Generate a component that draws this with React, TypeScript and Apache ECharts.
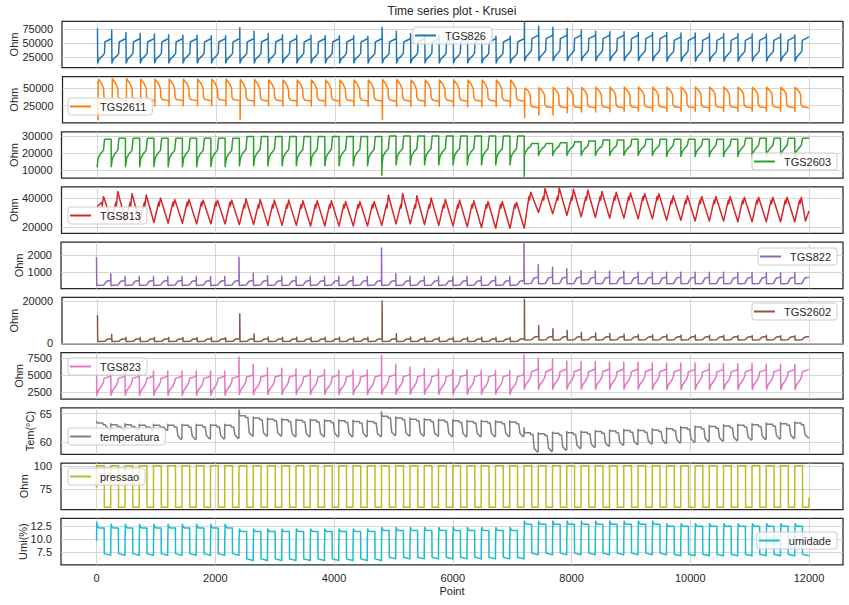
import React, { useEffect, useRef } from "react";
import * as echarts from "echarts";

// ---------------- data ----------------
const CYCLE = 240; // points per cycle
const CYCLES = 50;
const PER_BLOCK = 10;
const X_MIN = -598;
const X_MAX = 12572;
const xTickValues = [0, 2000, 4000, 6000, 8000, 10000, 12000];

const seriesNames = ["TGS826", "TGS2611", "TGS2603", "TGS813", "TGS822", "TGS2602", "TGS823", "temperatura", "pressao", "umidade"];
const yAxisNames = ["Ohm", "Ohm", "Ohm", "Ohm", "Ohm", "Ohm", "Ohm", "Tem(°C)", "Ohm", "Umi(%)"];
const yTickValues = [
  [25000, 50000, 75000],
  [25000, 50000],
  [10000, 20000, 30000],
  [20000, 40000],
  [1000, 2000],
  [0, 20000],
  [2500, 5000, 7500],
  [60, 65],
  [75, 100],
  [7.5, 10, 12.5],
];
const yMins = [6690, 833, 5349, 15448, 10, -480, 1417, 57.78, 52.9, 5.08];
const yMaxs = [88556, 65694, 32326, 47586, 2796, 21635, 8331, 65.99, 102.9, 13.92];

// TGS826: spike at cycle start, low, slow rise, jump to plateau
const tgs826Offsets = [0, 4, 30, 90, 118, 126, 200, 238];
const tgs826Spike = [
  76000, 73000, 69000, 67000, 66000, 65000, 64000, 64000, 63000, 63000,
  77000, 71000, 67000, 65000, 64000, 64000, 63000, 63000, 63000, 62000,
  78000, 71000, 67000, 65000, 64000, 64000, 63000, 63000, 62000, 62000,
  88000, 80000, 78000, 76000, 73000, 71000, 70000, 70000, 69000, 69000,
  69000, 68000, 68000, 67000, 67000, 67000, 66000, 66000, 66000, 65000,
];
const tgs826Body = [
  [15000, 22000, 28000, 32000, 52000, 56000, 58000],
  [15000, 22000, 28000, 32000, 52000, 56000, 58000],
  [15000, 22000, 28000, 32000, 52000, 56000, 58000],
  [19000, 26000, 33000, 37000, 58000, 62000, 64000],
  [18000, 25000, 32000, 36000, 55000, 59000, 61000],
];

// TGS2611: dip at cycle start, peak, rounded decay, drop to low plateau
const tgs2611Offsets = [0, 3, 12, 60, 95, 102, 125, 236];
const tgs2611Dip = [
  5000, 25000, 25000, 25000, 25000, 25000, 25000, 25000, 25000, 25000,
  5500, 25000, 25000, 24500, 24500, 24500, 24500, 24500, 24500, 24500,
  5500, 24000, 24000, 24000, 24000, 24000, 23500, 23500, 23500, 23500,
  8500, 12000, 12000, 15000, 16000, 16000, 16500, 17000, 17000, 17000,
  17000, 17000, 17000, 17000, 17000, 17000, 17000, 17000, 17000, 17000,
];
const tgs2611Peak = [
  59000, 62500, 62500, 62000, 62000, 62000, 62000, 62000, 62000, 62000,
  61500, 61500, 61000, 61000, 61000, 61000, 61000, 61000, 61000, 61000,
  61500, 61500, 61000, 61000, 61000, 61000, 61000, 61000, 61000, 61000,
  48500, 50000, 50500, 50500, 50500, 51000, 51000, 51000, 51000, 51000,
  51000, 51000, 51000, 51000, 51000, 50500, 50500, 50500, 50500, 50500,
];
const tgs2611Body = [
  [61500, 56000, 49000, 37000, 33500, 32000],
  [60500, 55000, 48000, 36500, 33000, 31500],
  [60500, 55000, 48000, 36500, 33000, 31000],
  [49500, 45500, 40500, 27000, 23500, 22000],
  [50000, 46000, 41000, 27000, 23500, 22000],
];

// TGS2603: drop at cycle start, rising curve, flat top
const tgs2603Offsets = [0, 3, 20, 60, 110, 120, 130, 239];
const tgs2603Start = [
  12800, 12000, 12000, 12000, 12000, 12000, 12000, 12000, 12000, 12000,
  12500, 12500, 12500, 12500, 12500, 12500, 12500, 12500, 12500, 12500,
  7000, 13000, 13000, 13000, 13000, 13000, 13000, 13000, 13000, 13000,
  6500, 18500, 18500, 18500, 18500, 18500, 18500, 18500, 18500, 18500,
  18000, 18000, 18000, 18000, 18000, 18000, 18000, 18000, 18000, 18000,
];
const tgs2603Body = [
  [12000, 17000, 19500, 21500, 25500],
  [12500, 17500, 20000, 22000, 26000],
  [13000, 18000, 20500, 22500, 26500],
  [18500, 20500, 22500, 24000, 25000],
  [18000, 20500, 22500, 24500, 26500],
];
const tgs2603Top = [
  28000, 28500, 28500, 28500, 28500, 28500, 28500, 28500, 28500, 28500,
  29500, 29500, 29500, 29500, 29500, 29500, 29500, 29500, 29500, 29500,
  29800, 29800, 29800, 29800, 29800, 29800, 29800, 29800, 29800, 29800,
  25500, 25500, 26000, 26500, 27000, 27500, 27500, 28000, 28000, 28000,
  28000, 28000, 28000, 28000, 28000, 28500, 28500, 28500, 28500, 28500,
];

// TGS813: zig-zag with a notch before the peak
const tgs813Offsets = [0, 80, 88, 110];
const tgs813Trough = [
  33800, 25000, 24000, 23500, 23000, 22500, 22500, 22000, 22000, 22000,
  21500, 21500, 21000, 21000, 21000, 20500, 20500, 20500, 20500, 20500,
  21000, 22000, 22000, 21500, 21000, 20500, 20000, 19500, 19000, 19000,
  19000, 30000, 29000, 28000, 27000, 26500, 26000, 26000, 25500, 25500,
  24500, 24500, 24000, 24000, 24000, 23500, 23500, 23500, 23500, 23500,
];
const tgs813Peak = [
  41000, 44500, 43000, 42000, 40000, 39000, 39000, 38500, 38500, 38500,
  39500, 39000, 38500, 38500, 38000, 38000, 38000, 37500, 37500, 37500,
  42000, 43000, 41500, 40000, 39000, 38500, 38000, 37500, 37500, 37000,
  44000, 46500, 47000, 46000, 45500, 44500, 44000, 43500, 43000, 43000,
  41500, 41500, 41000, 41000, 41000, 40500, 40500, 40500, 40500, 40500,
];
const tgs813Notch = [
  [37000, 34500],
  [35500, 33000],
  [35500, 33000],
  [41000, 38500],
  [38500, 36000],
];
const tgs813Tail = [[11940, 24000], [11999, 31000]];

// TGS822: spike at cycle start, low, small rise
const tgs822Offsets = [0, 4, 120, 170, 239];
const tgs822Spike = [
  1900, 900, 760, 740, 740, 740, 740, 740, 740, 740,
  1900, 950, 780, 750, 740, 740, 740, 740, 740, 740,
  2450, 900, 760, 740, 740, 740, 740, 740, 740, 740,
  2850, 1450, 1300, 1200, 1100, 1050, 1050, 1050, 1000, 1000,
  1000, 1000, 1000, 1000, 1000, 980, 980, 980, 980, 980,
];
const tgs822Body = [
  [200, 220, 450, 500],
  [200, 220, 450, 500],
  [200, 220, 450, 500],
  [300, 320, 650, 700],
  [300, 320, 650, 700],
];

// TGS2602
const tgs2602Offsets = [0, 4, 120, 170, 239];
const tgs2602Spike = [
  13100, 4000, 2700, 2600, 2600, 2600, 2600, 2600, 2600, 2600,
  13900, 4200, 2800, 2700, 2700, 2700, 2700, 2700, 2700, 2700,
  20000, 4300, 2800, 2700, 2700, 2700, 2700, 2700, 2700, 2700,
  20800, 8300, 6700, 5900, 5100, 4700, 4400, 4200, 4000, 3900,
  3800, 3700, 3700, 3600, 3600, 3500, 3500, 3500, 3400, 3400,
];
const tgs2602Body = [
  [600, 700, 1800, 2000],
  [600, 700, 1800, 2000],
  [600, 700, 1800, 2000],
  [1400, 1500, 2800, 3000],
  [1400, 1500, 2800, 3000],
];

// TGS823
const tgs823Offsets = [0, 4, 30, 90, 118, 126, 200, 238];
const tgs823Spike = [
  7600, 5700, 5700, 5600, 5600, 5600, 5600, 5600, 5600, 5600,
  7700, 6600, 6100, 6000, 5900, 5800, 5800, 5700, 5700, 5700,
  7900, 6600, 6200, 6000, 5900, 5800, 5800, 5700, 5700, 5700,
  8000, 7500, 7400, 7100, 7000, 7000, 6900, 6900, 6900, 6800,
  6800, 6800, 6800, 6700, 6700, 6700, 6700, 6600, 6600, 6600,
];
const tgs823Body = [
  [2000, 2700, 3400, 4000, 4500, 4700, 4850],
  [2100, 2800, 3500, 4100, 4700, 4900, 5050],
  [2150, 2850, 3550, 4150, 4750, 4950, 5100],
  [2900, 3600, 4300, 4900, 5500, 5750, 5900],
  [2850, 3550, 4250, 4850, 5450, 5700, 5850],
];

// temperatura
const tempOffsets = [0, 10, 105, 112, 150, 172, 225, 239];
const tempStart = [
  63.7, 63.2, 63.2, 63.1, 63.1, 63.1, 63.1, 63.1, 63.1, 63.1,
  65.6, 64.4, 64.2, 64.1, 64.0, 64.0, 63.9, 63.9, 63.8, 63.8,
  65.3, 64.4, 64.2, 64.1, 64.0, 63.9, 63.8, 63.8, 63.7, 63.7,
  62.5, 61.6, 61.7, 61.8, 61.9, 62.0, 62.1, 62.2, 62.2, 62.3,
  62.5, 62.7, 62.8, 62.9, 63.0, 63.1, 63.2, 63.3, 63.4, 63.5,
];
const tempHigh = [
  63.3, 63.0, 63.0, 62.9, 62.9, 62.9, 62.9, 62.9, 62.9, 62.9,
  64.6, 64.2, 64.0, 63.9, 63.8, 63.8, 63.7, 63.7, 63.6, 63.6,
  64.5, 64.2, 64.0, 63.9, 63.8, 63.7, 63.6, 63.6, 63.5, 63.5,
  61.6, 61.4, 61.5, 61.6, 61.7, 61.8, 61.9, 62.0, 62.0, 62.1,
  62.3, 62.5, 62.6, 62.7, 62.8, 62.9, 63.0, 63.1, 63.2, 63.3,
];
const tempLow = [
  62.0, 62.0, 62.0, 62.0, 62.0, 60.4, 60.4, 60.5, 60.5, 60.6,
  61.0, 61.0, 61.0, 60.9, 60.9, 60.9, 60.9, 60.9, 60.9, 60.9,
  61.1, 61.0, 61.0, 61.0, 60.9, 60.9, 60.9, 60.9, 60.9, 60.9,
  58.2, 58.3, 58.5, 58.8, 59.0, 59.2, 59.4, 59.5, 59.6, 59.7,
  59.8, 59.9, 60.0, 60.1, 60.2, 60.3, 60.4, 60.5, 60.6, 60.7,
];

// pressao: square wave
const pressaoOffsets = [0, 130, 132, 239];
const pressaoHigh = 100;
const pressaoLow = 55.5;
const pressaoHead = [[0, 76]];
const pressaoTail = [[11999, 66]];

// umidade
const umiOffsets = [0, 4, 6, 20, 40, 128, 131, 239];
const umiLedge = [9.6, 9.0, 9.2, 9.8, 9.6];
const umiSpike = [12.8, 11.9, 12.2, 13.4, 12.9];
const umiFirstSpike = 13.2;
const umiHigh = [12.1, 11.4, 11.6, 12.8, 12.4];
const umiLow = [6.9, 5.9, 6.2, 7.0, 6.8];

// ---------------- builders ----------------
function buildCycles(offsets: number[], row: (c: number, b: number) => number[]): number[][] {
  const pts: number[][] = [];
  for (let c = 0; c < CYCLES; c++) {
    const b = Math.floor(c / PER_BLOCK);
    const vals = row(c, b);
    for (let k = 0; k < offsets.length; k++) pts.push([c * CYCLE + offsets[k], vals[k]]);
  }
  return pts;
}

const seriesData: number[][][] = [
  buildCycles(tgs826Offsets, (c, b) => [tgs826Spike[c], ...tgs826Body[b]]),
  buildCycles(tgs2611Offsets, (c, b) => [tgs2611Dip[c], tgs2611Peak[c], ...tgs2611Body[b]]),
  buildCycles(tgs2603Offsets, (c, b) => [tgs2603Start[c], ...tgs2603Body[b], tgs2603Top[c], tgs2603Top[c]]),
  [...buildCycles(tgs813Offsets, (c, b) => [tgs813Trough[c], tgs813Notch[b][0], tgs813Notch[b][1], tgs813Peak[c]]), ...tgs813Tail],
  buildCycles(tgs822Offsets, (c, b) => [tgs822Spike[c], ...tgs822Body[b]]),
  buildCycles(tgs2602Offsets, (c, b) => [tgs2602Spike[c], ...tgs2602Body[b]]),
  buildCycles(tgs823Offsets, (c, b) => [tgs823Spike[c], ...tgs823Body[b]]),
  buildCycles(tempOffsets, (c) => [
    tempStart[c], tempHigh[c], tempHigh[c], tempHigh[c] - 0.3, tempHigh[c] - 0.3,
    tempLow[c] + 0.6, tempLow[c], tempLow[c] + 0.1,
  ]),
  [...pressaoHead, ...buildCycles(pressaoOffsets, () => [pressaoHigh, pressaoHigh, pressaoLow, pressaoLow]), ...pressaoTail],
  buildCycles(umiOffsets, (c, b) => [
    umiLedge[b], umiLedge[b], c === 0 ? umiFirstSpike : umiSpike[b], umiHigh[b] + 0.2, umiHigh[b], umiHigh[b],
    umiLow[b] + 0.3, umiLow[b],
  ]),
];

// ---------------- styling ----------------
const COLORS = ["#1f77b4", "#ff7f0e", "#2ca02c", "#d62728", "#9467bd", "#8c564b", "#e377c2", "#7f7f7f", "#bcbd22", "#17becf"];
const FONT = "'Liberation Sans', Arial, Helvetica, sans-serif";
const TEXT = "#262626";
const GRID_LINE = "#cccccc";
const PANEL_TOP0 = 21.3;
const PANEL_STEP = 55.23;
const PANEL_H = 46.4;
const yNameGaps = [43, 43.5, 42.5, 42.5, 36.5, 43, 36.5, 25.5, 32, 33];
const legendPos: any[] = [
  { left: 413, top: 27 },
  { left: 68, top: 98 },
  { right: 12, top: 153 },
  { left: 68, top: 207 },
  { right: 12, top: 248 },
  { right: 12, top: 303 },
  { left: 68, top: 358 },
  { left: 68, top: 428 },
  { left: 68, top: 468 },
  { right: 12, top: 532 },
];

function buildOption() {
  const grid: any[] = [];
  const xAxis: any[] = [];
  const yAxis: any[] = [];
  const series: any[] = [];
  const legend: any[] = [];
  for (let i = 0; i < 10; i++) {
    grid.push({
      left: 61, right: 6, top: PANEL_TOP0 + PANEL_STEP * i, height: PANEL_H,
      show: true, borderColor: "#262626", borderWidth: 1.25, backgroundColor: "transparent",
    });
    const isLast = i === 9;
    xAxis.push({
      gridIndex: i, type: "value", min: X_MIN, max: X_MAX,
      axisLine: { show: false },
      axisTick: { show: false, customValues: xTickValues },
      axisLabel: { show: isLast, customValues: xTickValues, fontSize: 11, color: TEXT, fontFamily: FONT, margin: 8, formatter: (v: number) => String(v) },
      splitLine: { show: true, lineStyle: { color: GRID_LINE, width: 0.8 } },
      name: isLast ? "Point" : "", nameLocation: "middle", nameGap: 21, nameMoveOverlap: false,
      nameTextStyle: { fontSize: 11, color: TEXT, fontFamily: FONT },
    });
    yAxis.push({
      gridIndex: i, type: "value", min: yMins[i], max: yMaxs[i],
      axisLine: { show: false },
      axisTick: { show: false, customValues: yTickValues[i] },
      axisLabel: {
        customValues: yTickValues[i], fontSize: 11, color: TEXT, fontFamily: FONT, margin: 9,
        formatter: (v: number) => (i === 9 ? v.toFixed(1) : String(v)),
      },
      splitLine: { show: true, lineStyle: { color: GRID_LINE, width: 0.8 } },
      name: yAxisNames[i], nameLocation: "middle", nameGap: yNameGaps[i], nameRotate: 90, nameMoveOverlap: false,
      nameTextStyle: { fontSize: 11, color: TEXT, fontFamily: FONT },
    });
    series.push({
      name: seriesNames[i], type: "line", xAxisIndex: i, yAxisIndex: i,
      data: seriesData[i], showSymbol: false, symbol: "none", color: COLORS[i],
      lineStyle: { width: 1.5, color: COLORS[i], join: "round" }, silent: true, clip: true,
    });
    legend.push({
      ...legendPos[i], data: [seriesNames[i]], orient: "horizontal", icon: "rect",
      itemWidth: 21, itemHeight: 2, selectedMode: false,
      backgroundColor: "rgba(255,255,255,0.8)", borderColor: "#cccccc", borderWidth: 1, borderRadius: 3,
      padding: [3, 6, 3, 2],
      textStyle: { fontSize: 11, color: TEXT, fontFamily: FONT, padding: [0, 0, 0, 4] },
    });
  }
  return {
    animation: false,
    backgroundColor: "#ffffff",
    textStyle: { fontFamily: FONT },
    grid, xAxis, yAxis, series, legend,
    graphic: [
      {
        type: "text", x: 452, y: 11,
        style: { text: "Time series plot - Krusei", fontSize: 12, fill: TEXT, fontFamily: FONT, align: "center", verticalAlign: "middle" },
      },
    ],
  };
}

export default function App() {
  const ref = useRef<HTMLDivElement>(null);
  useEffect(() => {
    if (!ref.current) return;
    const chart = echarts.init(ref.current, undefined, { renderer: "svg" });
    chart.setOption(buildOption() as any);
    return () => chart.dispose();
  }, []);
  return <div ref={ref} style={{ position: "fixed", left: 0, top: 0, width: 849, height: 605, background: "#fff" }} />;
}
